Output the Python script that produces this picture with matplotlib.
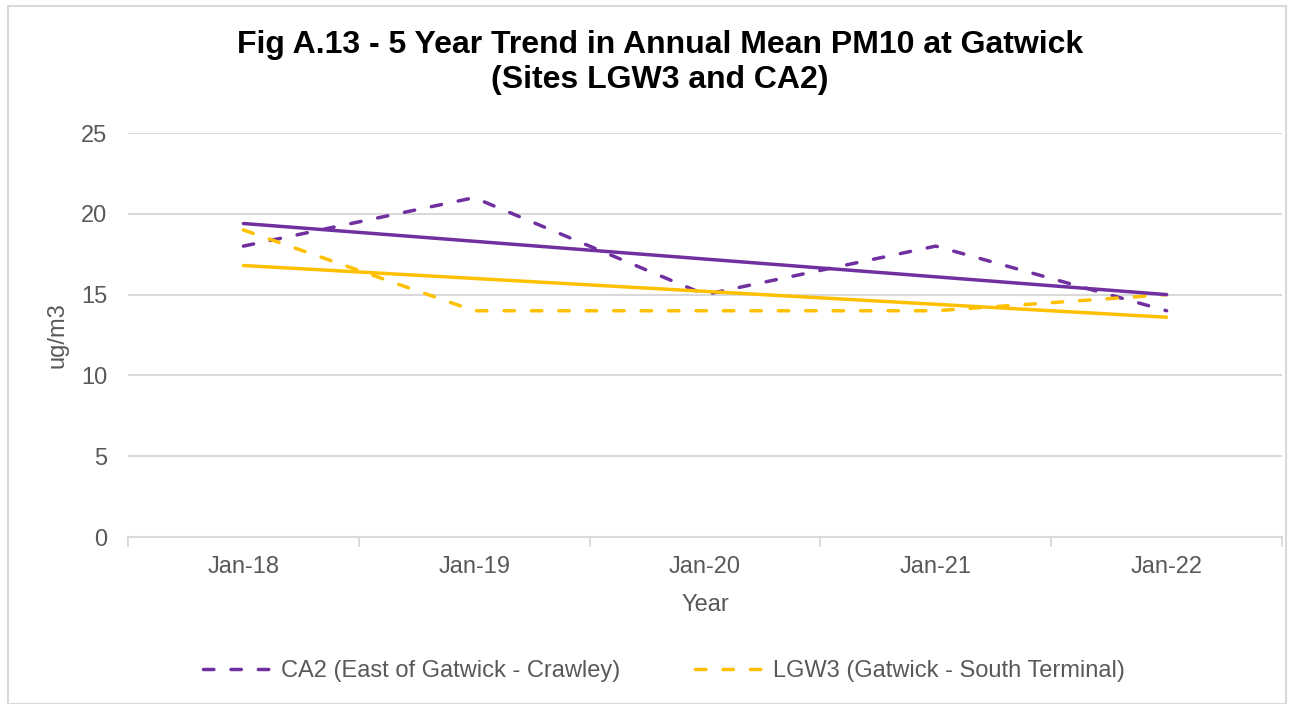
import numpy as np
import matplotlib
matplotlib.use("Agg")
import matplotlib.pyplot as plt
from matplotlib.patches import Rectangle
from matplotlib.lines import Line2D

plt.rcParams['font.family'] = ['Liberation Sans', 'DejaVu Sans']

categories = ["Jan-18", "Jan-19", "Jan-20", "Jan-21", "Jan-22"]
ca2 = [18, 21, 15, 18, 14]
lgw3 = [19, 14, 14, 14, 15]
ca2_label = "CA2 (East of Gatwick - Crawley)"
lgw3_label = "LGW3 (Gatwick - South Terminal)"
title = "Fig A.13 - 5 Year Trend in Annual Mean PM10 at Gatwick\n(Sites LGW3 and CA2)"
yticks = [0, 5, 10, 15, 20, 25]

purple = "#7030A0"
yellow = "#FFC000"
grid_c = "#D9D9D9"
text_c = "#595959"

fig = plt.figure(figsize=(12.94, 7.04), dpi=100)
ax = fig.add_axes([128/1294, 1-537/704, (1282-128)/1294, (537-133)/704])

x = np.arange(len(categories))
lw = 2.5
dash = (3.0, 4.9)
ax.plot(x, ca2, color=purple, lw=lw, dashes=dash, dash_capstyle='round', zorder=3)
ax.plot(x, lgw3, color=yellow, lw=lw, dashes=dash, dash_capstyle='round', zorder=3)

for series, col in ((ca2, purple), (lgw3, yellow)):
    m, b = np.polyfit(x, series, 1)
    ax.plot(x, m*x + b, color=col, lw=lw, solid_capstyle='round', zorder=3)

ax.set_xlim(-0.5, len(categories)-0.5)
ax.set_ylim(0, 25)
ax.set_yticks(yticks)
ax.set_yticklabels([str(v) for v in yticks])
ax.set_xticks(x)
ax.set_xticklabels(categories)
ax.set_xticks(np.arange(-0.5, len(categories)), minor=True)

ax.tick_params(axis='y', length=0, labelsize=17, labelcolor=text_c, pad=15)
ax.tick_params(axis='x', which='major', length=0, labelsize=17, labelcolor=text_c, pad=14)
ax.tick_params(axis='x', which='minor', length=7, width=1.3, color=grid_c)

for s in ['left', 'right', 'top']:
    ax.spines[s].set_visible(False)
ax.spines['bottom'].set_color(grid_c)
ax.spines['bottom'].set_linewidth(1.5)
ax.yaxis.grid(True, color=grid_c, lw=1.5)
ax.set_axisbelow(True)

ax.set_xlabel("Year", fontsize=17, color=text_c, labelpad=11)
ax.set_ylabel("ug/m3", fontsize=17, color=text_c, labelpad=9)

fig.suptitle(title, fontsize=23, fontweight='bold', color='black', y=1-30/704, va='top',
             x=660/1294, linespacing=1.22)

handles = [Line2D([0], [0], color=purple, lw=lw, dashes=dash, dash_capstyle='round'),
           Line2D([0], [0], color=yellow, lw=lw, dashes=dash, dash_capstyle='round')]
fig.legend(handles, [ca2_label, lgw3_label], loc='center', bbox_to_anchor=(664/1294, 1-671/704),
           ncol=2, frameon=False, fontsize=17, labelcolor=text_c, handlelength=3.0,
           handletextpad=0.3, columnspacing=3.2)

fig.patches.append(Rectangle((8/1294, 0), 1278/1294, 1-6/704, transform=fig.transFigure,
                             fill=False, edgecolor=grid_c, lw=1.5))

fig.savefig("out.png", dpi=100)
